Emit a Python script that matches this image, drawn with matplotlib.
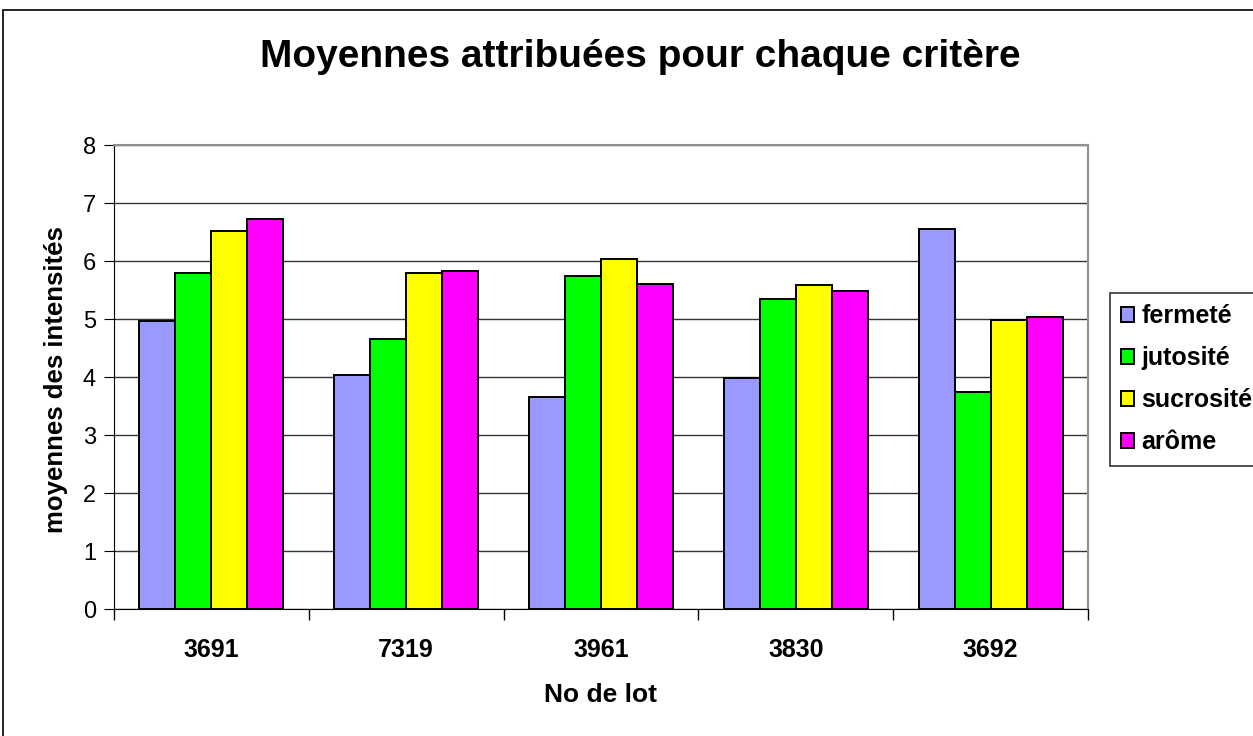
import numpy as np
import matplotlib.pyplot as plt
from matplotlib.patches import Rectangle

plt.rcParams['font.family'] = ['Liberation Sans', 'DejaVu Sans']

lots = ['3691', '7319', '3961', '3830', '3692']
criteres = ['fermeté', 'jutosité', 'sucrosité', 'arôme']
fermete = [4.96, 4.03, 3.65, 3.99, 6.55]
jutosite = [5.79, 4.65, 5.75, 5.34, 3.75]
sucrosite = [6.52, 5.79, 6.03, 5.58, 4.99]
arome = [6.72, 5.82, 5.61, 5.48, 5.03]
couleurs = ['#9999ff', '#00ff00', '#ffff00', '#ff00ff']

W, H = 1253, 736
fig = plt.figure(figsize=(W / 100, H / 100), dpi=100)

# cadre exterieur du graphique
fig.patches.append(Rectangle((3 / W, -0.1), 1.2, (H - 10) / H + 0.1,
                             transform=fig.transFigure, fill=False,
                             edgecolor='black', linewidth=1.2))

ax = fig.add_axes([114 / W, (H - 609) / H, (1088 - 114) / W, (609 - 145) / H])

x = np.arange(len(lots))
largeur = 0.185
series = [fermete, jutosite, sucrosite, arome]
for i, (vals, nom, c) in enumerate(zip(series, criteres, couleurs)):
    ax.bar(x + (i - 1.5) * largeur, vals, largeur, color=c, edgecolor='black',
           linewidth=1.4, label=nom, zorder=3)

ax.set_xlim(-0.5, len(lots) - 0.5)
ax.set_ylim(0, 8)
ax.set_yticks(range(0, 9))
ax.yaxis.grid(True, color='#333333', linewidth=1, zorder=0)

ax.set_xticks(x)
ax.set_xticklabels(lots, fontsize=18, fontweight='bold')
ax.set_xticks(np.arange(-0.5, len(lots)), minor=True)
ax.tick_params(axis='x', which='major', length=0, pad=21)
ax.tick_params(axis='x', which='minor', length=8, width=1, direction='out')
ax.tick_params(axis='y', labelsize=17, length=7, direction='out', pad=6)

for s in ['top', 'right']:
    ax.spines[s].set_color('#909090')
    ax.spines[s].set_linewidth(1.5)
for s in ['left', 'bottom']:
    ax.spines[s].set_color('black')

ax.set_xlabel('No de lot', fontsize=19, fontweight='bold')
ax.xaxis.set_label_coords(0.5, -0.16)
ax.set_ylabel('moyennes des intensités', fontsize=18.5, fontweight='bold')
ax.yaxis.set_label_coords(-0.047, 0.494)

fig.text(640 / W, 1 - 57 / H, 'Moyennes attribuées pour chaque critère',
         ha='center', va='center', fontsize=28, fontweight='bold')

leg = fig.legend(loc='upper left', bbox_to_anchor=(1110 / W, 1 - 293 / H),
                 prop={'weight': 'bold', 'size': 18},
                 frameon=True, fancybox=False, edgecolor='black',
                 handlelength=0.5, handleheight=0.5, handletextpad=0.3,
                 labelspacing=0.72, borderpad=0.45, borderaxespad=0)
leg.get_frame().set_linewidth(1.2)

fig.savefig('out.png', dpi=100)
